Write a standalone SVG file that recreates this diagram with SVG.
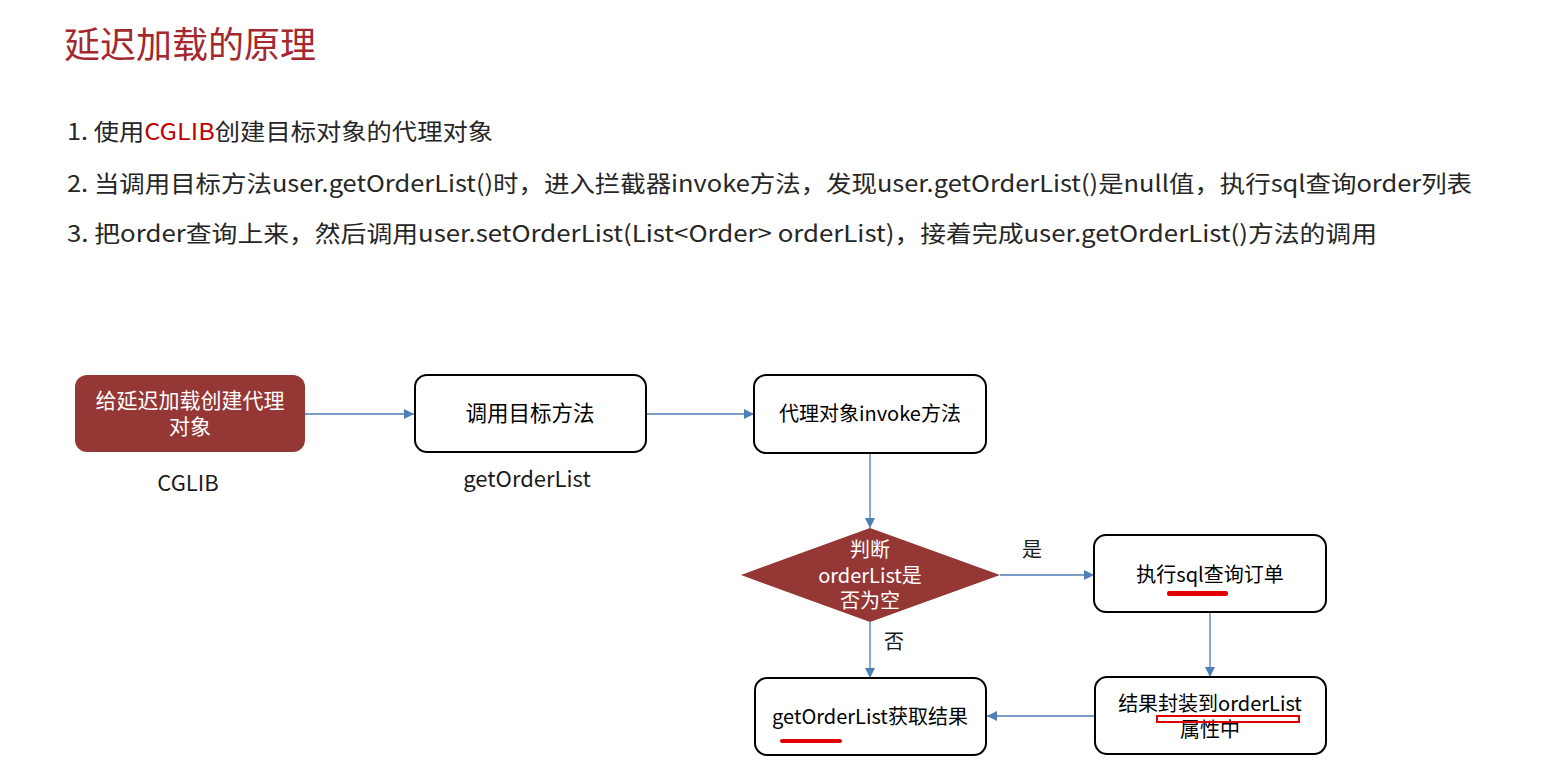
<svg xmlns="http://www.w3.org/2000/svg" width="1559" height="778" viewBox="0 0 1559 778">
<style>
text{font-family:"Noto Sans CJK SC","Microsoft YaHei",sans-serif;}
.title{font-size:36px;fill:#A3282F;}
.body{font-size:23px;fill:#262626;}
.hl{fill:#C00000;}
.box{fill:#ffffff;stroke:#000000;stroke-width:2;}
.red{fill:#953735;stroke:none;}
.nt{font-size:20px;fill:#000000;text-anchor:middle;}
.nt2{font-size:21.5px;fill:#000000;text-anchor:middle;}
.wt{font-size:21px;fill:#ffffff;text-anchor:middle;}
.wd{font-size:20px;fill:#ffffff;text-anchor:middle;}
.lbl{font-size:20px;fill:#1a1a1a;text-anchor:middle;}
.lbl2{font-size:22px;fill:#1a1a1a;text-anchor:middle;}
.conn{stroke:#4F7DB5;stroke-width:1.3;fill:none;marker-end:url(#arr);}
.mark{fill:#E00000;}
</style>
<defs>
<marker id="arr" viewBox="0 0 10 10" refX="10" refY="5" markerWidth="10" markerHeight="10" markerUnits="userSpaceOnUse" orient="auto">
<path d="M0,0 L10,5 L0,10 z" fill="#4F7DB5"/>
</marker>
</defs>
<rect width="1559" height="778" fill="#ffffff"/>
<text class="title" x="64" y="58">延迟加载的原理</text>
<text class="body" x="67" y="140" textLength="426" lengthAdjust="spacingAndGlyphs">1. 使用<tspan class="hl">CGLIB</tspan>创建目标对象的代理对象</text>
<text class="body" x="67" y="192" textLength="1405" lengthAdjust="spacingAndGlyphs">2. 当调用目标方法user.getOrderList()时，进入拦截器invoke方法，发现user.getOrderList()是null值，执行sql查询order列表</text>
<text class="body" x="67" y="242" textLength="1310" lengthAdjust="spacingAndGlyphs">3. 把order查询上来，然后调用user.setOrderList(List&lt;Order&gt; orderList)，接着完成user.getOrderList()方法的调用</text>

<g id="connectors">
<line class="conn" x1="305" y1="414" x2="414" y2="414"/>
<line class="conn" x1="646" y1="414" x2="754" y2="414"/>
<line class="conn" x1="870" y1="453" x2="870" y2="528"/>
<line class="conn" x1="1000" y1="575" x2="1094" y2="575"/>
<line class="conn" x1="1210" y1="612" x2="1210" y2="677"/>
<line class="conn" x1="1095" y1="716" x2="987" y2="716"/>
<line class="conn" x1="870" y1="622" x2="870" y2="678"/>
<text class="lbl" x="1032" y="557">是</text>
<text class="lbl" x="894" y="649">否</text>
</g>

<g id="n1">
<rect class="red" x="75" y="375" width="230" height="77" rx="12"/>
<text class="wt" x="190" y="408">给延迟加载创建代理</text>
<text class="wt" x="190" y="434">对象</text>
<text class="lbl2" x="188" y="491">CGLIB</text>
</g>
<g id="n2">
<rect class="box" x="415" y="375" width="231" height="77" rx="12"/>
<text class="nt2" x="530" y="421">调用目标方法</text>
<text class="lbl2" x="527" y="487">getOrderList</text>
</g>
<g id="n3">
<rect class="box" x="754" y="375" width="232" height="78" rx="12"/>
<text class="nt" x="870" y="421">代理对象invoke方法</text>
</g>
<g id="n4">
<polygon class="red" points="870,528 1000,575 870,622 741,575"/>
<text class="wd" x="870" y="557">判断</text>
<text class="wd" x="870" y="583">orderList是</text>
<text class="wd" x="870" y="608">否为空</text>
</g>
<g id="n5">
<rect class="box" x="1094" y="535" width="232" height="77" rx="12"/>
<text class="nt" x="1210" y="582">执行sql查询订单</text>
<rect class="mark" x="1167" y="591" width="61" height="5" rx="2"/>
</g>
<g id="n6">
<rect class="box" x="1095" y="677" width="231" height="77" rx="12"/>
<text class="nt" x="1210" y="711">结果封装到orderList</text>
<text class="nt" x="1210" y="737">属性中</text>
<rect x="1157" y="716" width="142" height="6" fill="none" stroke="#E00000" stroke-width="2"/>
</g>
<g id="n7">
<rect class="box" x="755" y="678" width="231" height="77" rx="12"/>
<text class="nt" x="870" y="724">getOrderList获取结果</text>
<rect class="mark" x="780" y="739" width="62" height="4" rx="2"/>
</g>
</svg>
